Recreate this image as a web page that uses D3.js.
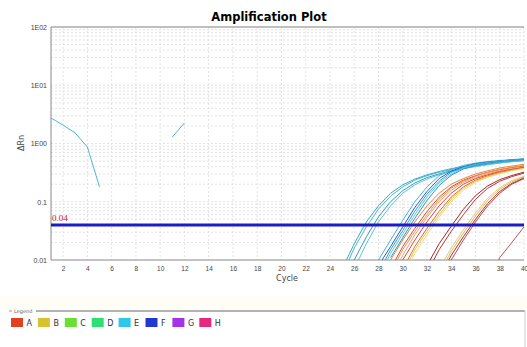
<!DOCTYPE html>
<html>
<head>
<meta charset="utf-8">
<script src="https://cdn.jsdelivr.net/npm/d3@7"></script>
<style>
  body { margin: 0; background: #fff; }
  svg { display: block; font-family: "DejaVu Sans", Verdana, sans-serif; }
</style>
</head>
<body>
<div id="chart"></div>
<script>
// cycles and axis ticks
const xTicks = [2, 4, 6, 8, 10, 12, 14, 16, 18, 20, 22, 24, 26, 28, 30, 32, 34, 36, 38, 40];
const yTicks = [0.01, 0.1, 1, 10, 100];
const yTickLabels = ["0.01", "0.1", "1E00", "1E01", "1E02"];
const threshold = 0.04;

// amplification curves, cycles 24..40 (null = not plotted)
const ampCycles = [24, 25, 26, 27, 28, 29, 30, 31, 32, 33, 34, 35, 36, 37, 38, 39, 40];
const curveWells = ["E", "E", "E", "E", "E", "F", "E", "E", "E",
  "A", "A", "A", "A", "A", "A", "B", "B", "A", "A", "B", "B", "A", "A", "A"];
const curveValues = [
  [0.002, 0.007, 0.019, 0.045, 0.085, 0.14, 0.195, 0.245, 0.29, 0.33, 0.37, 0.40, 0.43, 0.47, 0.50, 0.52, 0.545],
  [0.0015, 0.0055, 0.016, 0.037, 0.075, 0.125, 0.18, 0.235, 0.28, 0.32, 0.36, 0.395, 0.425, 0.455, 0.48, 0.50, 0.52],
  [null, 0.003, 0.01, 0.025, 0.055, 0.10, 0.155, 0.21, 0.26, 0.30, 0.34, 0.38, 0.41, 0.44, 0.47, 0.49, 0.51],
  [null, 0.002, 0.007, 0.019, 0.045, 0.085, 0.14, 0.195, 0.245, 0.29, 0.33, 0.37, 0.40, 0.43, 0.46, 0.485, 0.505],
  [null, null, null, 0.004, 0.01, 0.022, 0.048, 0.10, 0.18, 0.28, 0.36, 0.42, 0.46, 0.49, 0.51, 0.53, 0.545],
  [null, null, null, 0.003, 0.008, 0.017, 0.037, 0.08, 0.15, 0.25, 0.335, 0.40, 0.45, 0.48, 0.50, 0.52, 0.535],
  [null, null, null, null, 0.006, 0.015, 0.032, 0.069, 0.135, 0.225, 0.32, 0.39, 0.44, 0.475, 0.50, 0.52, 0.535],
  [null, null, null, null, 0.005, 0.013, 0.028, 0.06, 0.12, 0.21, 0.30, 0.38, 0.43, 0.465, 0.49, 0.51, 0.525],
  [null, null, null, null, null, 0.011, 0.024, 0.052, 0.105, 0.19, 0.285, 0.365, 0.42, 0.46, 0.49, 0.51, 0.53],
  [null, null, null, null, 0.004, 0.01, 0.022, 0.045, 0.085, 0.14, 0.20, 0.25, 0.30, 0.34, 0.38, 0.41, 0.44],
  [null, null, null, null, 0.003, 0.007, 0.017, 0.035, 0.068, 0.12, 0.18, 0.235, 0.28, 0.32, 0.355, 0.385, 0.41],
  [null, null, null, null, null, 0.006, 0.015, 0.031, 0.06, 0.11, 0.17, 0.225, 0.275, 0.32, 0.36, 0.39, 0.42],
  [null, null, null, null, null, 0.005, 0.012, 0.027, 0.054, 0.10, 0.157, 0.215, 0.262, 0.302, 0.34, 0.37, 0.395],
  [null, null, null, null, null, 0.004, 0.01, 0.022, 0.045, 0.085, 0.14, 0.20, 0.25, 0.29, 0.33, 0.36, 0.39],
  [null, null, null, null, null, null, 0.007, 0.017, 0.035, 0.068, 0.12, 0.18, 0.235, 0.278, 0.318, 0.35, 0.38],
  [null, null, null, null, null, null, 0.006, 0.015, 0.031, 0.06, 0.11, 0.17, 0.225, 0.27, 0.31, 0.345, 0.375],
  [null, null, null, null, null, null, 0.005, 0.013, 0.027, 0.054, 0.10, 0.157, 0.215, 0.262, 0.302, 0.34, 0.37],
  [null, null, null, null, null, null, null, 0.003, 0.008, 0.019, 0.038, 0.074, 0.127, 0.187, 0.24, 0.282, 0.322],
  [null, null, null, null, null, null, null, null, 0.006, 0.015, 0.031, 0.06, 0.11, 0.17, 0.225, 0.27, 0.31],
  [null, null, null, null, null, null, null, null, null, 0.007, 0.016, 0.033, 0.064, 0.115, 0.175, 0.23, 0.275],
  [null, null, null, null, null, null, null, null, null, 0.006, 0.014, 0.029, 0.057, 0.105, 0.163, 0.22, 0.266],
  [null, null, null, null, null, null, null, null, null, 0.005, 0.012, 0.025, 0.05, 0.093, 0.15, 0.207, 0.256],
  [null, null, null, null, null, null, null, null, null, 0.004, 0.01, 0.022, 0.045, 0.085, 0.14, 0.20, 0.25],
  [null, null, null, null, null, null, null, null, null, null, null, null, null, 0.004, 0.011, 0.02, 0.037]
];

// noisy early readings of one well, cycles 1..13
const earlyCycles = [1, 2, 3, 4, 5, 6, 7, 8, 9, 10, 11, 12, 13];
const earlyValues = [2.74, 2.07, 1.51, 0.87, 0.18, null, null, null, null, null, 1.29, 2.25, null];

// legend
const legendNames = ["A", "B", "C", "D", "E", "F", "G", "H"];

// styles
const legendColors = ["#e2401f", "#d8c22e", "#68e032", "#2ee070", "#2ec6ea", "#2038d0", "#a432e6", "#e6287e"];
const curveColors = ["#3aa8c6", "#4cb6d2", "#329ec0", "#5ec2da", "#3ab6dc", "#3458c8", "#2ea8d2", "#5ac8e8", "#2c98c2",
  "#e8843c", "#c8503a", "#f09242", "#e8a080", "#d84830", "#e06a30", "#e6c43c", "#f0d870",
  "#a82828", "#b83838", "#e8c870", "#e0b860", "#a83030", "#c04848", "#c05050"];

const W = 527, H = 347;
const svg = d3.select("#chart").append("svg").attr("width", W).attr("height", H);

const x = d3.scaleLinear().domain([1, 40]).range([51, 524]);
const y = d3.scaleLog().domain([0.01, 100]).range([260, 27]);

// title
svg.append("text")
  .attr("x", 269).attr("y", 21)
  .attr("text-anchor", "middle")
  .style("font-size", "11.5px").style("font-weight", "bold")
  .text("Amplification Plot");

// grid
const grid = svg.append("g").attr("stroke", "#dcdcdc").attr("stroke-dasharray", "2,2").attr("stroke-width", 0.8);
grid.selectAll("line.v").data(xTicks).enter().append("line")
  .attr("x1", d => x(d)).attr("x2", d => x(d))
  .attr("y1", y(100)).attr("y2", y(0.01));
const hLines = [];
[0.01, 0.1, 1, 10].forEach(dec => { for (let m = 1; m < 10; m++) hLines.push(dec * m); });
grid.selectAll("line.h").data(hLines.slice(1)).enter().append("line")
  .attr("x1", x(1)).attr("x2", x(40))
  .attr("y1", d => y(d)).attr("y2", d => y(d));

// frame
svg.append("line").attr("x1", x(1)).attr("x2", x(40)).attr("y1", y(100)).attr("y2", y(100))
  .attr("stroke", "#aaa").attr("stroke-width", 1.5);
svg.append("line").attr("x1", x(1)).attr("x2", x(1)).attr("y1", y(100)).attr("y2", y(0.01))
  .attr("stroke", "#888");
svg.append("line").attr("x1", x(1)).attr("x2", x(40)).attr("y1", y(0.01)).attr("y2", y(0.01))
  .attr("stroke", "#888");

// axes
const xAxis = svg.append("g")
  .attr("transform", "translate(0," + y(0.01) + ")")
  .call(d3.axisBottom(x).tickValues(xTicks).tickSize(0).tickPadding(6));
xAxis.select(".domain").remove();
xAxis.selectAll("text").style("font-size", "6.5px").attr("fill", "#444");

const yAxis = svg.append("g")
  .attr("transform", "translate(" + (x(1) - 4) + ",0)")
  .call(d3.axisLeft(y).tickValues(yTicks).tickFormat((d, i) => yTickLabels[i]).tickSize(0).tickPadding(0));
yAxis.select(".domain").remove();
yAxis.selectAll("text").style("font-size", "7px").attr("fill", "#444");

svg.append("text").attr("x", 287).attr("y", 281).attr("text-anchor", "middle")
  .style("font-size", "8px").attr("fill", "#444").text("Cycle");
svg.append("text").attr("transform", "translate(24,143) rotate(-90)").attr("text-anchor", "middle")
  .style("font-size", "8px").attr("fill", "#444").text("ΔRn");

// curves
svg.append("clipPath").attr("id", "plotclip").append("rect")
  .attr("x", x(1)).attr("y", y(100)).attr("width", x(40) - x(1)).attr("height", y(0.01) - y(100));

const line = d3.line()
  .defined(d => d.v != null)
  .x(d => x(d.c)).y(d => y(d.v));

const plot = svg.append("g").attr("clip-path", "url(#plotclip)");
curveValues.forEach((vals, i) => {
  plot.append("path")
    .datum(ampCycles.map((c, j) => ({ c: c, v: vals[j] })))
    .attr("fill", "none")
    .attr("stroke", curveColors[i])
    .attr("stroke-width", 1)
    .attr("d", line);
});
plot.append("path")
  .datum(earlyCycles.map((c, j) => ({ c: c, v: earlyValues[j] })))
  .attr("fill", "none").attr("stroke", "#48b8d6").attr("stroke-width", 1)
  .attr("d", line);

// threshold
svg.append("line").attr("x1", x(1)).attr("x2", x(40)).attr("y1", y(threshold)).attr("y2", y(threshold))
  .attr("stroke", "#1c1cc8").attr("stroke-width", 3);
svg.append("text").attr("x", x(1) + 1).attr("y", y(threshold) - 4)
  .style("font-family", "'Liberation Serif', 'DejaVu Serif', serif").style("font-size", "9px")
  .attr("fill", "#c81414").text("0.04");

// legend box
svg.append("rect").attr("x", 0).attr("y", 296).attr("width", W).attr("height", 14).attr("fill", "#fffef6");
svg.append("line").attr("x1", 9).attr("x2", 12).attr("y1", 311).attr("y2", 311).attr("stroke", "#999");
svg.append("text").attr("x", 14).attr("y", 313).style("font-size", "5px").attr("fill", "#666").text("Legend");
svg.append("line").attr("x1", 36).attr("x2", 525).attr("y1", 311).attr("y2", 311).attr("stroke", "#999").attr("stroke-width", 1.5);
svg.append("line").attr("x1", 525).attr("x2", 525).attr("y1", 311).attr("y2", H).attr("stroke", "#ccc");

const lg = svg.append("g").selectAll("g").data(legendNames).enter().append("g")
  .attr("transform", (d, i) => "translate(" + (11 + i * 26.9) + ",318)");
lg.append("rect").attr("width", 12).attr("height", 9).attr("fill", (d, i) => legendColors[i]);
lg.append("text").attr("x", 15.5).attr("y", 8).style("font-size", "8px").attr("fill", "#333").text(d => d);
</script>
</body>
</html>
